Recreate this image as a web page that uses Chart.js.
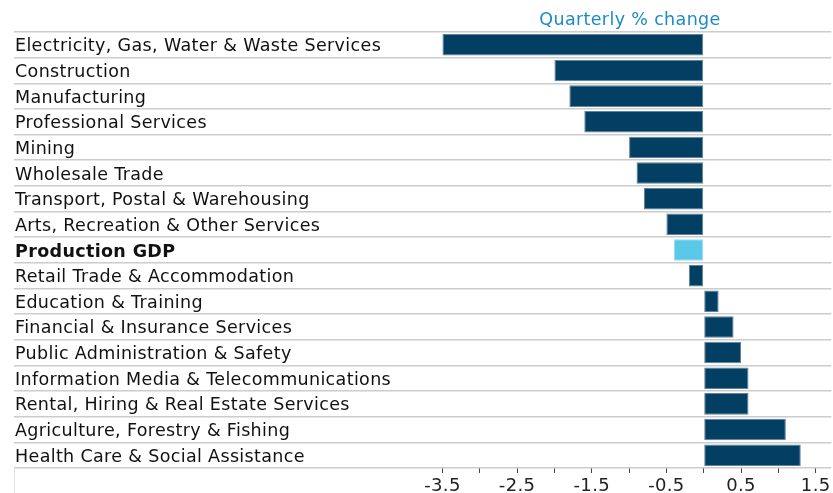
<!DOCTYPE html>
<html>
<head>
<meta charset="utf-8">
<script src="https://cdn.jsdelivr.net/npm/chart.js@4"></script>
<style>
  html, body { margin: 0; padding: 0; background: #fff; }
  #wrap { width: 833px; height: 493px; position: relative; }
</style>
</head>
<body>
<div id="wrap"><canvas id="gdpChart"></canvas></div>
<script>
// categories, top to bottom
const industries = [
    'Electricity, Gas, Water & Waste Services',
    'Construction',
    'Manufacturing',
    'Professional Services',
    'Mining',
    'Wholesale Trade',
    'Transport, Postal & Warehousing',
    'Arts, Recreation & Other Services',
    'Production GDP',
    'Retail Trade & Accommodation',
    'Education & Training',
    'Financial & Insurance Services',
    'Public Administration & Safety',
    'Information Media & Telecommunications',
    'Rental, Hiring & Real Estate Services',
    'Agriculture, Forestry & Fishing',
    'Health Care & Social Assistance'
];
const quarterlyChange = [-3.5, -2.0, -1.8, -1.6, -1.0, -0.9, -0.8, -0.5, -0.4, -0.2, 0.2, 0.4, 0.5, 0.6, 0.6, 1.1, 1.3];
const tickValues = [-3.5, -3, -2.5, -2, -1.5, -1, -0.5, 0, 0.5, 1, 1.5];
const tickLabels = ['-3.5', '', '-2.5', '', '-1.5', '', '-0.5', '', '0.5', '', '1.5'];

const totalLabel = 'Production GDP';
const darkBlue = '#023f62';
const lightBlue = '#5bc8ea';

// léger espacement des lettres (la police d'origine est plus large que DejaVu)
const spacingPlugin = {
    id: 'spacing',
    beforeDraw(chart) {
        chart.ctx.letterSpacing = '0.35px';
    }
};

// titre au-dessus des barres + petit trait à gauche sous l'axe
const titlePlugin = {
    id: 'topTitle',
    afterDraw(chart) {
        const c = chart.ctx;
        c.save();
        c.letterSpacing = '0.35px';
        c.font = '17.5px "DejaVu Sans"';
        c.fillStyle = '#1b8bc8';
        c.textAlign = 'center';
        c.textBaseline = 'middle';
        c.fillText('Quarterly % change', 630, 20);
        c.strokeStyle = '#e2e2e2';
        c.lineWidth = 1;
        c.beginPath();
        c.moveTo(14.5, chart.chartArea.bottom);
        c.lineTo(14.5, 493);
        c.stroke();
        c.restore();
    }
};

new Chart(document.getElementById('gdpChart'), {
    type: 'bar',
    data: {
        labels: industries,
        datasets: [{
            data: quarterlyChange,
            backgroundColor: industries.map(l => l === totalLabel ? lightBlue : darkBlue),
            borderColor: industries.map(l => l === totalLabel ? '#9adcf2' : '#5f8399'),
            borderWidth: 1,
            borderSkipped: false,
            barPercentage: 0.84,
            categoryPercentage: 1
        }]
    },
    options: {
        indexAxis: 'y',
        responsive: true,
        maintainAspectRatio: false,
        animation: false,
        layout: { padding: { left: 14, top: 32, right: 0, bottom: 0 } },
        plugins: {
            legend: { display: false },
            tooltip: { enabled: false }
        },
        scales: {
            x: {
                min: -9.24,
                max: 1.71,
                afterBuildTicks(scale) {
                    scale.ticks = tickValues.map(v => ({ value: v }));
                },
                afterFit(scale) { scale.height = 25; },
                ticks: {
                    autoSkip: false,
                    maxRotation: 0,
                    padding: 3,
                    color: '#222',
                    font: { family: 'DejaVu Sans', size: 18 },
                    callback: (v, i) => tickLabels[i]
                },
                grid: {
                    drawOnChartArea: false,
                    drawTicks: true,
                    tickLength: 5,
                    color: '#444'
                },
                border: { display: false }
            },
            y: {
                afterFit(scale) { scale.width = 0; },
                ticks: {
                    mirror: true,
                    padding: 1,
                    labelOffset: 2,
                    color: '#111',
                    font: ctx => ({
                        family: 'DejaVu Sans',
                        size: 17.5,
                        weight: industries[ctx.index] === totalLabel ? 'bold' : 'normal'
                    })
                },
                grid: {
                    offset: true,
                    drawTicks: false,
                    color: '#cccccc',
                    lineWidth: 1.5
                },
                border: { display: false }
            }
        }
    },
    plugins: [spacingPlugin, titlePlugin]
});
</script>
</body>
</html>
